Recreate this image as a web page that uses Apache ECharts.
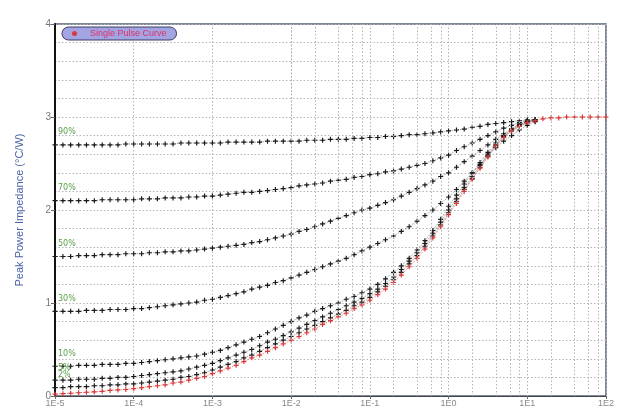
<!DOCTYPE html>
<html><head><meta charset="utf-8">
<script src="https://cdn.jsdelivr.net/npm/echarts@6/dist/echarts.min.js"></script>
<style>html,body{margin:0;padding:0;background:#fff}#c{width:625px;height:412px}</style>
</head><body><div id="c"></div>
<script>
// Pulse durations (s), ~10 samples per decade
const times = [
 1e-5,1.26e-5,1.58e-5,2e-5,2.51e-5,3.16e-5,3.98e-5,5.01e-5,6.31e-5,7.94e-5,
 1e-4,1.26e-4,1.58e-4,2e-4,2.51e-4,3.16e-4,3.98e-4,5.01e-4,6.31e-4,7.94e-4,
 1e-3,1.26e-3,1.58e-3,2e-3,2.51e-3,3.16e-3,3.98e-3,5.01e-3,6.31e-3,7.94e-3,
 1e-2,1.26e-2,1.58e-2,2e-2,2.51e-2,3.16e-2,3.98e-2,5.01e-2,6.31e-2,7.94e-2,
 1e-1,0.126,0.158,0.2,0.251,0.316,0.398,0.501,0.631,0.794,
 1,1.26,1.58,2,2.51,3.16,3.98,5.01,6.31,7.94,
 10,12.6,15.8,20,25.1,31.6,39.8,50.1,63.1,79.4,100
];
const singlePulse = [
 0.02,0.025,0.03,0.035,0.04,0.045,0.05,0.06,0.065,0.07,
 0.08,0.09,0.10,0.11,0.12,0.14,0.15,0.17,0.19,0.21,
 0.24,0.27,0.30,0.33,0.37,0.41,0.44,0.48,0.52,0.56,
 0.60,0.64,0.68,0.72,0.77,0.81,0.85,0.89,0.94,0.98,
 1.03,1.09,1.15,1.22,1.30,1.39,1.48,1.58,1.70,1.82,
 1.95,2.07,2.20,2.33,2.45,2.57,2.69,2.78,2.85,2.90,
 2.94,2.96,2.98,2.99,2.99,3.00,3.00,3.00,3.00,3.00,3.00
];
const d90 = [
 2.70,2.70,2.70,2.70,2.70,2.70,2.70,2.70,2.70,2.71,
 2.71,2.71,2.71,2.71,2.71,2.71,2.72,2.72,2.72,2.72,
 2.72,2.72,2.73,2.73,2.73,2.73,2.73,2.74,2.74,2.74,
 2.74,2.74,2.75,2.75,2.75,2.76,2.76,2.76,2.77,2.77,
 2.78,2.78,2.79,2.79,2.80,2.81,2.81,2.82,2.83,2.84,
 2.85,2.86,2.87,2.89,2.90,2.92,2.93,2.94,2.95,2.96,2.97,2.97
];
const d70 = [
 2.10,2.10,2.10,2.10,2.10,2.10,2.11,2.11,2.11,2.11,
 2.11,2.12,2.12,2.12,2.13,2.13,2.13,2.14,2.14,2.15,
 2.15,2.16,2.17,2.18,2.19,2.19,2.20,2.21,2.22,2.23,
 2.24,2.26,2.27,2.28,2.29,2.31,2.32,2.33,2.35,2.36,
 2.38,2.39,2.41,2.42,2.44,2.46,2.48,2.50,2.53,2.56,
 2.59,2.64,2.68,2.72,2.76,2.80,2.84,2.88,2.91,2.94,2.96,2.97
];
const d50 = [
 1.50,1.50,1.50,1.51,1.51,1.51,1.52,1.52,1.52,1.53,
 1.53,1.53,1.54,1.54,1.55,1.55,1.56,1.56,1.57,1.58,
 1.59,1.60,1.61,1.62,1.63,1.65,1.66,1.68,1.70,1.72,
 1.74,1.77,1.79,1.82,1.85,1.88,1.91,1.94,1.97,2.00,
 2.02,2.05,2.08,2.11,2.15,2.19,2.23,2.27,2.31,2.36,
 2.40,2.46,2.52,2.58,2.64,2.70,2.76,2.82,2.87,2.92,2.95,2.97
];
const d30 = [
 0.91,0.91,0.91,0.91,0.92,0.92,0.92,0.93,0.93,0.93,
 0.94,0.94,0.95,0.96,0.97,0.98,0.99,1.00,1.01,1.03,
 1.04,1.06,1.08,1.10,1.12,1.15,1.17,1.19,1.22,1.24,
 1.27,1.30,1.33,1.36,1.39,1.42,1.45,1.48,1.52,1.56,
 1.60,1.64,1.68,1.72,1.77,1.82,1.88,1.94,2.00,2.07,
 2.14,2.22,2.31,2.40,2.49,2.58,2.67,2.74,2.80,2.86,2.91,2.95
];
const d10 = [
 0.32,0.32,0.32,0.33,0.33,0.33,0.34,0.34,0.34,0.35,
 0.35,0.36,0.37,0.38,0.39,0.40,0.41,0.42,0.43,0.45,
 0.47,0.49,0.52,0.55,0.58,0.61,0.64,0.68,0.72,0.76,
 0.80,0.84,0.87,0.91,0.94,0.97,1.00,1.04,1.07,1.11,
 1.15,1.20,1.26,1.33,1.40,1.48,1.57,1.67,1.78,1.90,
 2.04,2.16,2.28,2.40,2.51,2.62,2.72,2.80,2.87,2.92,2.95,2.97
];
const d05 = [
 0.17,0.17,0.17,0.18,0.18,0.18,0.19,0.19,0.20,0.20,
 0.21,0.22,0.23,0.24,0.25,0.26,0.27,0.29,0.31,0.33,
 0.35,0.38,0.41,0.44,0.47,0.50,0.54,0.58,0.61,0.65,
 0.69,0.73,0.77,0.81,0.85,0.89,0.93,0.97,1.01,1.05,
 1.10,1.15,1.21,1.28,1.36,1.45,1.54,1.64,1.75,1.87,
 2.00,2.12,2.24,2.36,2.48,2.60,2.70,2.79,2.86,2.91,2.94,2.96
];
const d02 = [
 0.09,0.09,0.10,0.10,0.10,0.11,0.11,0.12,0.12,0.13,
 0.13,0.14,0.15,0.16,0.17,0.18,0.20,0.21,0.23,0.25,
 0.28,0.31,0.34,0.37,0.41,0.44,0.48,0.52,0.56,0.60,
 0.64,0.68,0.72,0.76,0.80,0.84,0.88,0.92,0.97,1.01,
 1.06,1.12,1.18,1.25,1.33,1.42,1.51,1.61,1.72,1.84,
 1.97,2.09,2.22,2.34,2.46,2.58,2.69,2.78,2.85,2.90,2.94,2.96
];
const dutyNames = ['90%','70%','50%','30%','10%','5%','2%'];
const dutyValues = [d90,d70,d50,d30,d10,d05,d02];
const xTickLabels = ['1E-5','1E-4','1E-3','1E-2','1E-1','1E0','1E1','1E2'];
const minorGridMultipliers = [2,4,6,8];
const legendName = 'Single Pulse Curve';

const plus = 'path://M-0.7,-3H0.7V-0.7H3V0.7H0.7V3H-0.7V0.7H-3V-0.7H-0.7Z';

function toData(vals, label){
  return vals.map((v,i)=>{
    const item = {value:[times[i], v]};
    if (i===0 && label){
      item.label = {show:true, formatter:label, position:'top', align:'left', offset:[3,-1],
        color:'#5a9e48', fontSize:8, fontFamily:'DejaVu Sans'};
    }
    return item;
  });
}

const series = dutyValues.map((vals,k)=>({
  name: dutyNames[k], type:'line', data: toData(vals, dutyNames[k]),
  symbol: plus, symbolSize: 5, showSymbol:true,
  itemStyle:{color:'#1a1a1a'},
  lineStyle:{color:'#666', width:1, type:'dotted', opacity:0.7},
  label:{show:false}, silent:true, z:3
}));

// minor vertical grid lines at 2,4,6,8 x each decade
const minorLines = [];
for (let e=-5; e<2; e++) minorGridMultipliers.forEach(m=>minorLines.push({xAxis: m*Math.pow(10,e)}));
series.push({
  name:'grid', type:'line', data:[], silent:true,
  markLine:{silent:true, symbol:'none', label:{show:false}, animation:false,
    lineStyle:{color:'#b4b4b4', type:[1.5,2], width:1}, data:minorLines}
});
series.push({
  name: legendName, type:'line', data: toData(singlePulse, null),
  symbol: plus, symbolSize: 5, itemStyle:{color:'#d83a3a'},
  lineStyle:{color:'#f08080', width:1, type:'dotted'}, silent:true, z:4
});

const chart = echarts.init(document.getElementById('c'), null, {renderer:'canvas'});
chart.setOption({
  animation:false,
  backgroundColor:'#fff',
  textStyle:{fontFamily:'Liberation Sans'},
  grid:{left:55, right:19, top:24, bottom:16, containLabel:false, outerBoundsMode:'none',
    show:true, borderColor:'#56627a', borderWidth:1.5, backgroundColor:'#fff'},
  legend:{
    data:[{name:legendName, icon:'circle'}], left:62, top:27, itemWidth:5, itemHeight:5, itemGap:4,
    backgroundColor:'#a3a4e2', borderColor:'#3d3d66', borderWidth:1, borderRadius:8, padding:[2,10,2,10],
    textStyle:{color:'#e2306a', fontSize:9, fontFamily:'Liberation Sans', padding:[0,0,0,8]}
  },
  xAxis:{
    type:'log', logBase:10, min:1e-5, max:100,
    name:'Square Wave Pulse Duration (s)', nameLocation:'middle', nameGap:17,
    nameTextStyle:{color:'#4a63a8', fontSize:11},
    axisLine:{show:true, lineStyle:{color:'#444', width:1}},
    axisTick:{show:true, length:3, lineStyle:{color:'#666'}},
    axisLabel:{color:'#888', fontSize:9, margin:3,
      formatter:v=>xTickLabels[Math.round(Math.log10(v))+5]},
    splitLine:{show:true, lineStyle:{color:'#b4b4b4', type:[1.5,2], width:1}},
    minorTick:{show:false}, minorSplitLine:{show:false}
  },
  yAxis:{
    type:'value', min:0, max:4, interval:1,
    name:'Peak Power Impedance (°C/W)', nameLocation:'middle', nameGap:30,
    nameTextStyle:{color:'#4a63a8', fontSize:11},
    axisLine:{show:true, lineStyle:{color:'#111', width:2}},
    axisTick:{show:true, length:4, lineStyle:{color:'#666'}},
    axisLabel:{color:'#777', fontSize:10, margin:4},
    splitLine:{show:true, lineStyle:{color:'#b4b4b4', type:[1.5,2], width:1}},
    minorTick:{show:false, splitNumber:5},
    minorSplitLine:{show:true, lineStyle:{color:'#b4b4b4', type:[1.5,2], width:1}}
  },
  series: series
});
</script></body></html>
